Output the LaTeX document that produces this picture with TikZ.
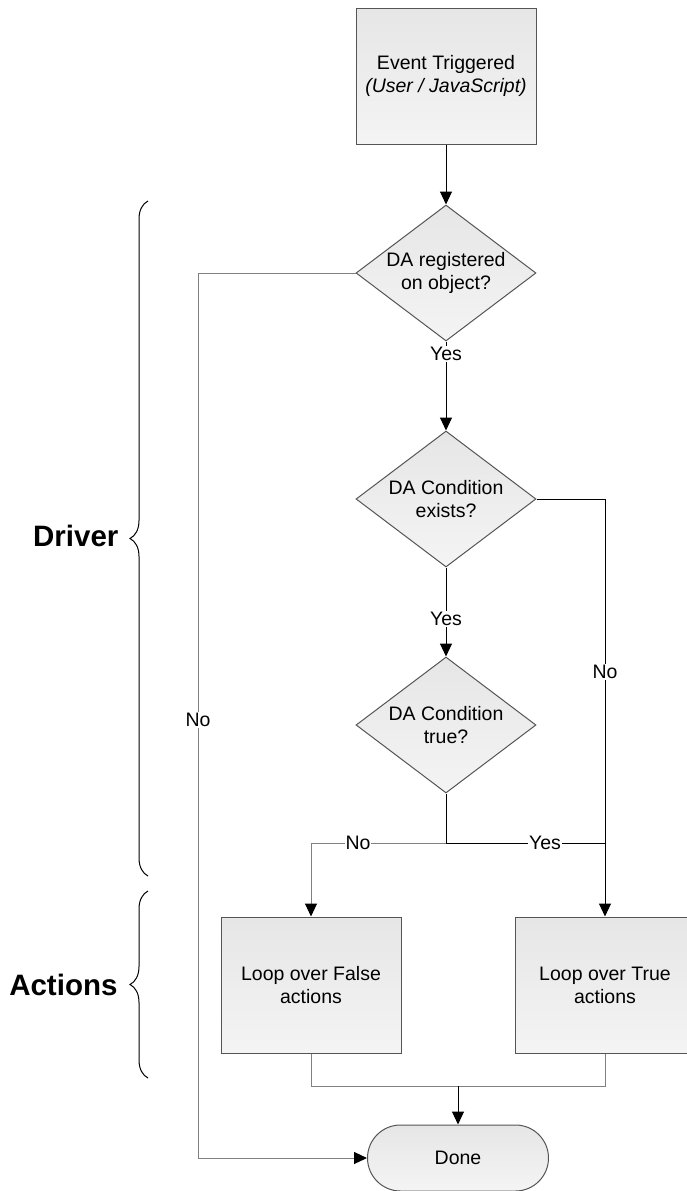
\documentclass[tikz,border=0pt]{standalone}
\usepackage{fontspec}
\setmainfont{Liberation Sans}
\usetikzlibrary{shapes.geometric,arrows.meta,decorations.pathreplacing}
\definecolor{bordc}{HTML}{555555}
\definecolor{topc}{HTML}{E6E6E6}
\definecolor{botc}{HTML}{F4F4F4}
\definecolor{glin}{HTML}{808080}
\tikzset{
  base/.style={draw=bordc, line width=1pt, top color=topc, bottom color=botc,
    font=\fontsize{19.5}{23}\selectfont, align=center, inner sep=0pt},
  procbox/.style={base, rectangle, minimum width=180pt, minimum height=136pt},
  decbox/.style={base, diamond, aspect=1.32, minimum width=180pt, minimum height=136pt},
  termbox/.style={base, rectangle, rounded corners=33pt, minimum width=181pt, minimum height=66pt},
  conn/.style={line width=1pt, draw=black},
  gconn/.style={line width=1pt, draw=glin},
  arr/.style={-{Triangle[length=13pt,width=12pt,color=black]}},
  lbl/.style={fill=white, inner sep=1pt, font=\fontsize{19.5}{23}\selectfont},
  grp/.style={font=\bfseries\fontsize{29.5}{34}\selectfont, anchor=east},
  brc/.style={decorate, decoration={brace, amplitude=18pt}, line width=1pt}
}
\begin{document}
\begin{tikzpicture}[x=1pt,y=-1pt]
\useasboundingbox (0,0) rectangle (686,1191);
% nodes
\node[procbox] (ev) at (446,76) {Event Triggered\\\textit{(User / JavaScript)}};
\node[decbox] (d1) at (446,273) {DA registered\\on object?};
\node[decbox] (d2) at (446,499) {DA Condition\\exists?};
\node[decbox] (d3) at (446,725) {DA Condition\\true?};
\node[procbox] (fb) at (311,985) {Loop over False\\actions};
\node[procbox] (tb) at (605,985) {Loop over True\\actions};
\node[termbox] (dn) at (458,1158) {Done};
% junctions
\coordinate (jm) at (446,843);
\coordinate (jr) at (605,843);
\coordinate (jb) at (458,1086);
\coordinate (nl) at (198,273);
% connectors
\draw[conn,arr] (ev.south) -- (d1.north);
\draw[conn,arr] (d1.south) -- (d2.north);
\draw[conn,arr] (d2.south) -- (d3.north);
\draw[conn] (d2.east) -| (jr);
\draw[conn,arr] (jr) -- (tb.north);
\draw[conn] (d3.south) -- (jm) -- (jr);
\draw[gconn,arr] (jm) -| (fb.north);
\draw[gconn] (fb.south) |- (jb);
\draw[gconn] (tb.south) |- (jb);
\draw[conn,arr] (jb) -- (dn.north);
\draw[gconn] (d1.west) -- (nl);
\draw[gconn,arr] (nl) |- (dn.west);
% labels
\node[lbl] (l1) at (446,354) {Yes};
\node[lbl] (l2) at (446,619) {Yes};
\node[lbl] (l3) at (605,672) {No};
\node[lbl] (l4) at (198,720) {No};
\node[lbl] (l5) at (358,843) {No};
\node[lbl] (l6) at (545,843) {Yes};
% braces
\coordinate (b1a) at (148,876);
\coordinate (b1b) at (148,201);
\coordinate (b2a) at (148,1078);
\coordinate (b2b) at (148,891);
\draw[brc] (b1a) -- (b1b);
\draw[brc] (b2a) -- (b2b);
\node[grp] (gd) at (122,536) {Driver};
\node[grp] (ga) at (121,985) {Actions};
\end{tikzpicture}
\end{document}
